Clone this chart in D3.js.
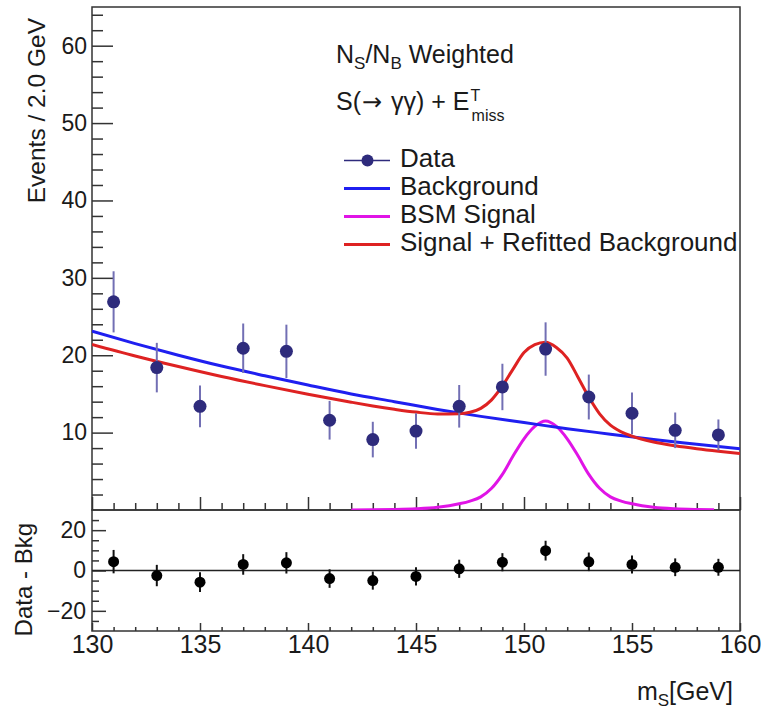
<!DOCTYPE html>
<html>
<head>
<meta charset="utf-8">
<script src="https://cdn.jsdelivr.net/npm/d3@7"></script>
<style>
  body { margin: 0; background: #fff; }
  text { font-family: "Liberation Sans", Arial, Helvetica, sans-serif; fill: #1a1a1a; }
</style>
</head>
<body>
<svg id="chart" width="761" height="709"></svg>
<script>
// ---- Binned diphoton mass data (2 GeV bins) ----
const massBins  = [131, 133, 135, 137, 139, 141, 143, 145, 147, 149, 151, 153, 155, 157, 159];
const events    = [26.9, 18.4, 13.4, 20.9, 20.5, 11.6, 9.1, 10.2, 13.4, 15.9, 20.8, 14.6, 12.5, 10.3, 9.7];
const eventsErr = [3.95, 3.2, 2.7, 3.2, 3.45, 2.5, 2.3, 2.3, 2.75, 3.0, 3.45, 2.9, 2.7, 2.3, 2.0];

// ---- Data minus background ----
const residuals    = [4.4, -2.5, -5.8, 3.0, 3.8, -4.0, -5.0, -2.95, 0.85, 4.1, 9.85, 4.3, 3.0, 1.6, 1.6];
const residualsErr = [5.8, 5.3, 4.9, 5.1, 5.3, 4.6, 4.5, 4.5, 4.5, 4.5, 4.9, 4.6, 4.5, 4.4, 4.2];

// ---- Background-only fit ----
const bkgMass  = [130, 132, 134, 136, 138, 140, 142, 144, 146, 148, 150, 152, 154, 156, 158, 160];
const bkgYield = [23.1, 21.5, 20.0, 18.6, 17.35, 16.15, 15.0, 14.0, 13.0, 12.1, 11.3, 10.5, 9.8, 9.1, 8.5, 7.9];

// ---- BSM signal shape ----
const sigMass  = [142, 143, 144, 145, 146, 147, 147.5, 148, 148.5, 149, 149.5, 150, 150.5, 151,
                  151.5, 152, 152.5, 153, 153.5, 154, 154.5, 155, 156, 157, 158, 158.8];
const sigYield = [0.01, 0.02, 0.06, 0.15, 0.35, 0.8, 1.15, 1.7, 2.8, 4.6, 7.0, 9.2, 10.8, 11.5,
                  10.8, 9.2, 7.0, 4.6, 2.8, 1.7, 1.15, 0.8, 0.35, 0.15, 0.06, 0.02];

// ---- Signal + refitted background ----
const sbMass  = [130, 132, 134, 136, 138, 140, 142, 143, 144, 145, 146, 147, 147.5, 148, 148.5, 149,
                 149.5, 150, 150.5, 151, 151.5, 152, 152.5, 153, 153.5, 154, 154.5, 155, 156, 157, 158, 159, 160];
const sbYield = [21.4, 19.91, 18.54, 17.25, 16.07, 14.96, 13.93, 13.45, 13.02, 12.65, 12.41, 12.44, 12.63, 13.13, 14.23, 16.03,
                 18.24, 20.35, 21.36, 21.68, 21.0, 19.63, 17.16, 14.59, 12.42, 10.96, 10.10, 9.54, 8.78, 8.29, 7.91, 7.59, 7.31];

// ---- Axis ticks ----
const xMajorTicks   = [130, 135, 140, 145, 150, 155, 160];
const xMinorTicks   = d3.range(131, 160).filter(v => v % 5 !== 0);
const yMajorTicks   = [10, 20, 30, 40, 50, 60];
const yMinorTicks   = d3.range(2, 65, 2).filter(v => v % 10 !== 0);
const resMajorTicks = [-20, 0, 20];
const resMinorTicks = [-25, -15, -10, -5, 5, 10, 15, 25];

// ---- Legend ----
const legendLabels = ["Data", "Background", "BSM Signal", "Signal + Refitted Background"];

// ---- Colours ----
const colData = "#2e2b7c", colDataErr = "#726fb4", colBkg = "#1f1ff0",
      colSig = "#e014e6", colSB = "#de2222", colFrame = "#333";

const svg = d3.select("#chart");
const L = 92, R = 740, T = 7, M = 510, B = 631;

const x    = d3.scaleLinear().domain([130, 160]).range([L, R]);
const yTop = d3.scaleLinear().domain([0, 65]).range([M, T]);
const yRes = d3.scaleLinear().domain([-30, 30]).range([B, M]);

svg.append("defs").append("clipPath").attr("id", "clipTop")
  .append("rect").attr("x", L).attr("y", T).attr("width", R - L).attr("height", M - T);

// ---- Frames ----
svg.append("rect").attr("x", L).attr("y", T).attr("width", R - L).attr("height", M - T)
  .attr("fill", "none").attr("stroke", colFrame).attr("stroke-width", 1.5);
svg.append("rect").attr("x", L).attr("y", M).attr("width", R - L).attr("height", B - M)
  .attr("fill", "none").attr("stroke", colFrame).attr("stroke-width", 1.5);

function styleAxis(g) {
  g.select(".domain").remove();
  g.selectAll(".tick line").attr("stroke", colFrame).attr("stroke-width", 1.5);
}

// top panel: y axis
svg.append("g").attr("transform", `translate(${L},0)`)
  .call(d3.axisLeft(yTop).tickValues(yMinorTicks).tickSize(-11).tickFormat(""))
  .call(styleAxis);
svg.append("g").attr("transform", `translate(${L},0)`)
  .call(d3.axisLeft(yTop).tickValues(yMajorTicks).tickSize(-21).tickPadding(5))
  .call(styleAxis)
  .selectAll("text").attr("font-size", 23).attr("fill", "#1a1a1a")
  .attr("font-family", "Liberation Sans, Arial, sans-serif");

// top panel: x ticks (no labels)
svg.append("g").attr("transform", `translate(0,${M})`)
  .call(d3.axisBottom(x).tickValues(xMinorTicks).tickSize(-7).tickFormat(""))
  .call(styleAxis);
svg.append("g").attr("transform", `translate(0,${M})`)
  .call(d3.axisBottom(x).tickValues(xMajorTicks).tickSize(-13).tickFormat(""))
  .call(styleAxis);

// bottom panel: y axis
svg.append("g").attr("transform", `translate(${L},0)`)
  .call(d3.axisLeft(yRes).tickValues(resMinorTicks).tickSize(-7).tickFormat(""))
  .call(styleAxis);
svg.append("g").attr("transform", `translate(${L},0)`)
  .call(d3.axisLeft(yRes).tickValues(resMajorTicks).tickSize(-14).tickPadding(6))
  .call(styleAxis)
  .selectAll("text").attr("font-size", 23).attr("fill", "#1a1a1a")
  .attr("font-family", "Liberation Sans, Arial, sans-serif");

// bottom panel: x axis with labels
svg.append("g").attr("transform", `translate(0,${B})`)
  .call(d3.axisBottom(x).tickValues(xMinorTicks).tickSize(-4).tickFormat(""))
  .call(styleAxis);
svg.append("g").attr("transform", `translate(0,${B})`)
  .call(d3.axisBottom(x).tickValues(xMajorTicks).tickSize(-8).tickPadding(4))
  .call(styleAxis)
  .selectAll("text").attr("font-size", 25).attr("fill", "#1a1a1a")
  .attr("font-family", "Liberation Sans, Arial, sans-serif");

// zero line of the residual panel
svg.append("line").attr("x1", L).attr("x2", R).attr("y1", yRes(0)).attr("y2", yRes(0))
  .attr("stroke", "#222").attr("stroke-width", 1.5);

// ---- Curves ----
const plot = svg.append("g").attr("clip-path", "url(#clipTop)");
const curve = (xs, ys) => d3.line().x((d, i) => x(xs[i])).y(d => yTop(d)).curve(d3.curveMonotoneX)(ys);

plot.append("path").attr("d", curve(sigMass, sigYield))
  .attr("fill", "none").attr("stroke", colSig).attr("stroke-width", 3);
plot.append("path").attr("d", curve(bkgMass, bkgYield))
  .attr("fill", "none").attr("stroke", colBkg).attr("stroke-width", 3);
plot.append("path").attr("d", curve(sbMass, sbYield))
  .attr("fill", "none").attr("stroke", colSB).attr("stroke-width", 3);

// ---- Data points ----
const pts = plot.append("g");
pts.selectAll("line").data(massBins).join("line")
  .attr("x1", d => x(d)).attr("x2", d => x(d))
  .attr("y1", (d, i) => yTop(events[i] - eventsErr[i]))
  .attr("y2", (d, i) => yTop(events[i] + eventsErr[i]))
  .attr("stroke", colDataErr).attr("stroke-width", 2);
pts.selectAll("circle").data(massBins).join("circle")
  .attr("cx", d => x(d)).attr("cy", (d, i) => yTop(events[i]))
  .attr("r", 6.5).attr("fill", colData);

// ---- Residual points ----
const res = svg.append("g");
res.selectAll("line").data(massBins).join("line")
  .attr("x1", d => x(d)).attr("x2", d => x(d))
  .attr("y1", (d, i) => yRes(residuals[i] - residualsErr[i]))
  .attr("y2", (d, i) => yRes(residuals[i] + residualsErr[i]))
  .attr("stroke", "#111").attr("stroke-width", 2);
res.selectAll("circle").data(massBins).join("circle")
  .attr("cx", d => x(d)).attr("cy", (d, i) => yRes(residuals[i]))
  .attr("r", 5.5).attr("fill", "#000");

// ---- Axis titles ----
svg.append("text").attr("transform", "translate(45,18) rotate(-90)")
  .attr("text-anchor", "end").attr("font-size", 24.5).text("Events / 2.0 GeV");
svg.append("text").attr("transform", "translate(32,523) rotate(-90)")
  .attr("text-anchor", "end").attr("font-size", 24).text("Data - Bkg");

const xt = svg.append("text").attr("x", 733).attr("y", 700).attr("text-anchor", "end").attr("font-size", 25);
xt.append("tspan").text("m");
xt.append("tspan").attr("font-size", 17).attr("dy", 6).text("S");
xt.append("tspan").attr("dy", -6).text("[GeV]");

// ---- Plot annotations ----
const t1 = svg.append("text").attr("x", 336).attr("y", 63).attr("font-size", 25);
t1.append("tspan").text("N");
t1.append("tspan").attr("font-size", 17).attr("dy", 6).text("S");
t1.append("tspan").attr("dy", -6).text("/N");
t1.append("tspan").attr("font-size", 17).attr("dy", 6).text("B");
t1.append("tspan").attr("dy", -6).text(" Weighted");

const t2 = svg.append("text").attr("x", 336).attr("y", 110).attr("font-size", 25);
t2.append("tspan").text("S(");
t2.append("tspan").attr("dx", 1).attr("style", "font-family:'DejaVu Sans';font-size:24px").text("\u2192");
t2.append("tspan").attr("dx", 2).text(" \u03B3\u03B3) + E");
const t2w = t2.node().getComputedTextLength() + 3;
svg.append("text").attr("x", 336 + t2w + 1).attr("y", 101).attr("font-size", 16).text("T");
svg.append("text").attr("x", 336 + t2w + 2).attr("y", 121).attr("font-size", 16).text("miss");

// ---- Legend ----
const legY = [160.5, 188.5, 216.5, 244.5];
const lg = svg.append("g");
lg.append("line").attr("x1", 344).attr("x2", 390).attr("y1", legY[0]).attr("y2", legY[0])
  .attr("stroke", colData).attr("stroke-width", 1.5);
lg.append("circle").attr("cx", 367.5).attr("cy", legY[0]).attr("r", 6).attr("fill", colData);
[colBkg, colSig, colSB].forEach((c, i) => {
  lg.append("line").attr("x1", 344).attr("x2", 390).attr("y1", legY[i + 1]).attr("y2", legY[i + 1])
    .attr("stroke", c).attr("stroke-width", 3);
});
lg.selectAll("text.leg").data(legendLabels).join("text").attr("class", "leg")
  .attr("x", 400).attr("y", (d, i) => legY[i] + 6.5).attr("font-size", 26).text(d => d);
</script>
</body>
</html>
